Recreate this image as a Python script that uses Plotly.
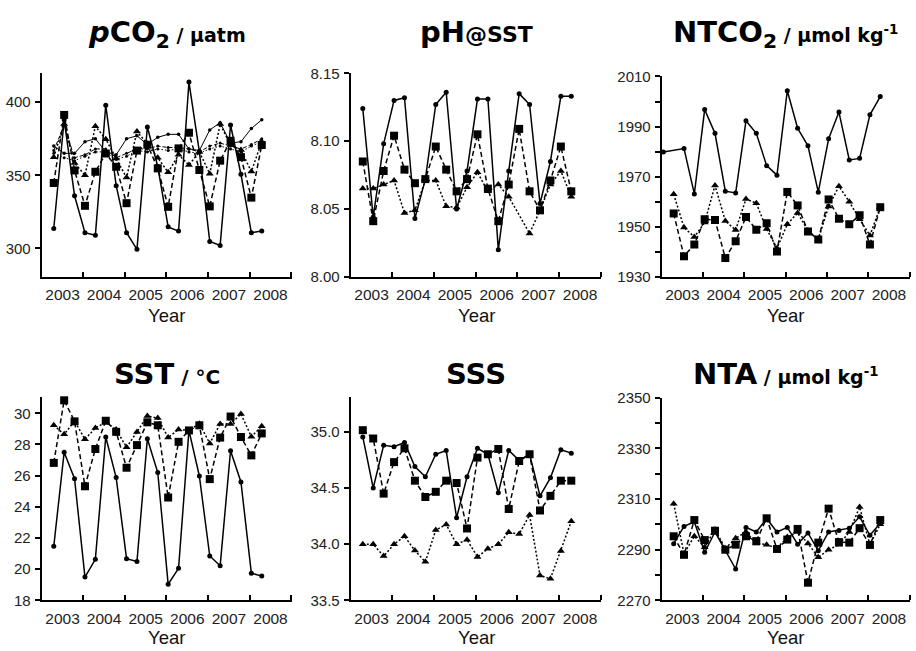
import plotly.graph_objects as go

# ---------------- data ----------------
# quarterly sampling dates (decimal years)
dates = [2003.04, 2003.29, 2003.54, 2003.79, 2004.04, 2004.29, 2004.54, 2004.79,
         2005.04, 2005.29, 2005.54, 2005.79, 2006.04, 2006.29, 2006.54, 2006.79,
         2007.04, 2007.29, 2007.54, 2007.79, 2008.04, 2008.29]
year_labels = ["2003", "2004", "2005", "2006", "2007", "2008"]

# pCO2 / uatm
pco2_solid = [None, 313.6, 388, 336, 310.7, 308.9, 398, 342.9, 310.7, 299.3, 383, 356,
              314.7, 311.8, 413.8, 366.2, 304.7, 302, 384.4, 350.7, 310.7, 311.8]
pco2_dashed = [None, 344.7, 391.3, 353.3, 329.1, 352.4, 364.9, 355.8, 330.9, 366.9, 370.9, 354.7,
               328.4, 368.4, 379.1, 353.6, 328.7, 360, 373.6, 362.4, 334.7, 370.7]
pco2_dotted = [None, 362.4, 385, 358.4, 350, 383.6, 374.7, 361.5, 348.4, 380, 371.5, 362,
               352, 364, 357, 366, 351, 385, 370.7, 367.3, 352.5, 373]
pco2_air_solid = [None, 370, 365, 365, 373, 375, 366, 364, 375, 377, 371, 376,
                  378, 378, 368, 367, 381, 386, 372, 373, 382, 388]
pco2_air_dashed = [None, 367, 384, 362, 364, 368, 368, 362, 365, 368, 368, 370,
                   369, 369, 368, 366, 370, 372, 370, 368, 371, 375]
pco2_air_dotted = [None, 365, 362, 360, 363, 366, 366, 361, 363, 367, 366, 368,
                   367, 368, 366, 365, 368, 370, 368, 366, 370, 373]

# pH @ SST
ph_solid = [None, 8.124, 8.044, 8.098, 8.130, 8.132, 8.043, 8.072, 8.127, 8.136, 8.050, 8.078,
            8.131, 8.131, 8.020, 8.078, 8.135, 8.127, 8.054, 8.085, 8.133, 8.133]
ph_dashed = [None, 8.085, 8.041, 8.078, 8.104, 8.079, 8.069, 8.072, 8.096, 8.079, 8.063, 8.072,
             8.105, 8.065, 8.041, 8.068, 8.109, 8.063, 8.049, 8.071, 8.096, 8.063]
ph_dotted = [None, 8.065, 8.065, 8.068, 8.071, 8.047, 8.049, 8.071, 8.071, 8.052, 8.051, 8.066,
             8.077, 8.063, 8.068, 8.059, None, 8.032, 8.049, 8.068, 8.078, 8.059]

# NTCO2 / umol kg-1
ntco2_solid = [1979.8, None, 1981.2, 1963.1, 1996.8, 1987.3, 1964.2, 1963.5, 1992.3, 1987.3, 1974.4,
               1970.6, 2004.3, 1989.3, 1982.3, 1963.8, 1985.1, 1995.8, 1976.7, 1977.3, 1994.7, 2002.0]
ntco2_dashed = [None, 1955.3, 1938.2, 1942.9, 1953.0, 1952.7, 1937.5, 1944.2, 1953.9, 1948.8, 1951.4,
                1940.1, 1963.9, 1958.5, 1948.1, 1944.9, 1960.9, 1953.2, 1951.0, 1954.6, 1942.9, 1957.8]
ntco2_dotted = [None, 1963.0, 1949.7, 1945.9, 1951.7, 1966.5, 1952.3, 1948.7, 1961.1, 1959.4, 1949.1,
                1941.4, 1951.0, 1955.5, 1948.5, 1945.0, 1958.1, 1966.2, 1960.0, 1953.0, 1946.5, 1957.8]

# SST / degC
sst_solid = [None, 21.47, 27.5, 25.8, 19.5, 20.64, 28.48, 25.88, 20.68, 20.5, 28.37, 26.2,
             19.04, 20.06, 28.9, 25.98, 20.85, 20.22, 27.6, 25.6, 19.75, 19.56]
sst_dashed = [None, 26.82, 30.83, 29.48, 25.32, 27.71, 29.52, 28.81, 26.51, 27.96, 29.42, 29.23,
              24.6, 28.17, 28.9, 29.23, 25.78, 28.44, 29.79, 28.48, 27.3, 28.71]
sst_dotted = [None, 29.23, 28.65, 29.5, 28.33, 29.06, 29.42, 28.96, 27.82, 28.8, 29.83, 29.69,
              28.44, 28.96, 28.9, 29.33, 28.07, 29.31, 29.31, 29.96, 28.5, 29.17]

# SSS
sss_solid = [None, 34.954, 34.50, 34.88, 34.867, 34.905, 34.69, 34.60, 34.80, 34.833, 34.236, 34.60,
             34.853, 34.80, 34.457, 34.833, 34.746, 34.80, 34.43, 34.59, 34.84, 34.81]
sss_dashed = [None, 35.014, 34.94, 34.45, 34.73, 34.853, 34.565, 34.42, 34.466, 34.565, 34.544, 34.14,
              34.77, 34.80, 34.847, 34.313, 34.74, 34.80, 34.30, 34.43, 34.565, 34.565]
sss_dotted = [None, 34.0, 34.0, 33.895, 34.0, 34.07, 33.944, 33.843, 34.126, 34.175, 34.0, 34.04,
              33.887, 33.96, 34.0, 34.106, 34.09, 34.26, 33.722, 33.693, 33.94, 34.204]

# NTA / umol kg-1
nta_solid = [None, 2292.4, 2299.2, 2301.0, 2289.0, 2297.0, 2289.7, 2282.4, 2298.8, 2297.0, 2302.3,
             2297.0, 2298.8, 2292.2, 2296.6, 2289.6, 2297.0, 2297.6, 2298.5, 2303.0, 2295.7, 2300.4]
nta_dashed = [None, 2295.3, 2288.0, 2301.7, 2293.8, 2297.5, 2290.0, 2292.0, 2295.3, 2293.4, 2302.4,
              2290.3, 2294.0, 2298.2, 2277.0, 2292.8, 2306.2, 2293.0, 2292.8, 2298.5, 2291.9, 2301.7]
nta_dotted = [None, 2308.1, 2288.5, 2295.3, 2291.0, 2298.0, 2290.5, 2294.5, 2297.0, 2292.5, 2292.0,
              2290.5, 2295.0, 2297.0, 2292.5, 2287.0, 2290.0, 2292.0, 2297.0, 2306.8, 2292.0, 2300.0]

# ---------------- layout helpers ----------------
W, H = 916, 651
FONT = "Liberation Sans, Arial, sans-serif"
TFONT = "DejaVu Sans, Verdana, sans-serif"

def px_x(a, b):
    return [a / W, b / W]

def px_y(top, bottom):
    return [1 - bottom / H, 1 - top / H]

panels = [
    dict(xd=(41.7, 291.7), yd=(65.7, 275), yr=[280.5, 420], tv=[300, 350, 400], tt=["300", "350", "400"], minor=None),
    dict(xd=(350.7, 601.3), yd=(66, 275), yr=[8.0, 8.15], tv=[8.0, 8.05, 8.10, 8.15], tt=["8.00", "8.05", "8.10", "8.15"], minor=None),
    dict(xd=(661.7, 910), yd=(69.3, 275), yr=[1930, 2010], tv=[1930, 1950, 1970, 1990, 2010], tt=["1930", "1950", "1970", "1990", "2010"], minor=[1940, 1960, 1980, 2000]),
    dict(xd=(41.7, 291.7), yd=(398.3, 607.3), yr=[18, 31.05], tv=[18, 20, 22, 24, 26, 28, 30], tt=["18", "20", "22", "24", "26", "28", "30"], minor=None),
    dict(xd=(350.7, 601.3), yd=(398.3, 607.3), yr=[33.5, 35.31], tv=[33.5, 34.0, 34.5, 35.0], tt=["33.5", "34.0", "34.5", "35.0"], minor=None),
    dict(xd=(661.7, 910), yd=(399, 607.3), yr=[2270, 2350], tv=[2270, 2290, 2310, 2330, 2350], tt=["2270", "2290", "2310", "2330", "2350"], minor=[2280, 2300, 2320, 2340]),
]

series_sets = [
    [(pco2_solid, "solid"), (pco2_dashed, "dashed"), (pco2_dotted, "dotted"),
     (pco2_air_solid, "thin_solid"), (pco2_air_dashed, "thin_dashed"), (pco2_air_dotted, "thin_dotted")],
    [(ph_solid, "solid"), (ph_dashed, "dashed"), (ph_dotted, "dotted")],
    [(ntco2_solid, "solid"), (ntco2_dashed, "dashed"), (ntco2_dotted, "dotted")],
    [(sst_solid, "solid"), (sst_dashed, "dashed"), (sst_dotted, "dotted")],
    [(sss_solid, "solid"), (sss_dashed, "dashed"), (sss_dotted, "dotted")],
    [(nta_solid, "solid"), (nta_dashed, "dashed"), (nta_dotted, "dotted")],
]

styles = {
    "solid": dict(line=dict(color="black", width=1.5, dash="solid"),
                  marker=dict(symbol="circle", size=5, color="black")),
    "dashed": dict(line=dict(color="black", width=1.5, dash="5px,3px"),
                   marker=dict(symbol="square", size=8, color="black")),
    "dotted": dict(line=dict(color="black", width=1.5, dash="2px,2px"),
                   marker=dict(symbol="triangle-up", size=7, color="black")),
    "thin_solid": dict(line=dict(color="black", width=1, dash="solid"),
                       marker=dict(symbol="circle", size=3.5, color="black")),
    "thin_dashed": dict(line=dict(color="black", width=1, dash="4px,2px"),
                        marker=dict(symbol="circle", size=3, color="black")),
    "thin_dotted": dict(line=dict(color="black", width=1, dash="1.5px,2px"),
                        marker=dict(symbol="circle", size=3, color="black")),
}

fig = go.Figure()
layout = dict(width=W, height=H, margin=dict(l=0, r=0, t=0, b=0), autosize=False,
              paper_bgcolor="white", plot_bgcolor="white", showlegend=False,
              font=dict(family=FONT, color="#111"))

year_mid = [2003.5, 2004.5, 2005.5, 2006.5, 2007.5, 2008.5]
year_bounds = [2004, 2005, 2006, 2007, 2008, 2009]

for i, p in enumerate(panels):
    n = "" if i == 0 else str(i + 1)
    xa, ya = "x" + n, "y" + n
    layout["xaxis" + n] = dict(
        domain=px_x(*p["xd"]), anchor=ya, range=[2003, 2009.01],
        tickmode="array", tickvals=year_mid, ticktext=year_labels, ticks="",
        showline=True, linecolor="black", linewidth=2, showgrid=False, zeroline=False,
        tickfont=dict(size=15.5, family=FONT, color="#222"), ticklabelstandoff=3,
        minor=dict(tickmode="array", tickvals=year_bounds, ticks="inside", ticklen=5,
                   tickwidth=1.5, tickcolor="black", showgrid=False),
        fixedrange=True)
    ydict = dict(
        domain=px_y(*p["yd"]), anchor=xa, range=p["yr"],
        tickmode="array", tickvals=p["tv"], ticktext=p["tt"], ticks="outside", ticklen=5,
        tickwidth=1.5, tickcolor="black",
        showline=True, linecolor="black", linewidth=2, showgrid=False, zeroline=False,
        tickfont=dict(size=15, family=FONT, color="#222"), ticklabelstandoff=1,
        fixedrange=True)
    if p["minor"]:
        ydict["minor"] = dict(tickmode="array", tickvals=p["minor"], ticks="outside", ticklen=5,
                              tickwidth=1.5, tickcolor="black", showgrid=False)
    layout["yaxis" + n] = ydict
    for vals, st in series_sets[i]:
        s = styles[st]
        fig.add_trace(go.Scatter(x=dates, y=vals, xaxis=xa, yaxis=ya, mode="lines+markers",
                                 line=s["line"], marker=s["marker"], connectgaps=True,
                                 cliponaxis=False, hoverinfo="skip"))

titles = [
    "<b><i>p</i>CO<sub>2</sub><span style='font-size:19px'> / µatm</span></b>",
    "<b>pH<span style='font-size:22px'>@SST</span></b>",
    "<b>NTCO<sub>2</sub><span style='font-size:19px'> / µmol kg<sup>-1</sup></span></b>",
    "<b>SST<span style='font-size:20px'> / °C</span></b>",
    "<b>SSS</b>",
    "<b>NTA<span style='font-size:19px'> / µmol kg<sup>-1</sup></span></b>",
]
title_y = [26, 24, 26, 375, 375, 375]

annotations = []
for i, p in enumerate(panels):
    cx = (p["xd"][0] + p["xd"][1]) / 2 / W
    annotations.append(dict(text=titles[i], x=cx, y=1 - title_y[i] / H, xref="paper", yref="paper",
                            xanchor="center", yanchor="middle", showarrow=False,
                            font=dict(size=29, family=TFONT, color="black")))
    yy = 315 if i < 3 else 645
    annotations.append(dict(text="Year", x=cx, y=1 - yy / H, xref="paper", yref="paper",
                            xanchor="center", yanchor="middle", showarrow=False,
                            font=dict(size=18.5, family=FONT, color="#111")))
layout["annotations"] = annotations

fig.update_layout(**layout)
fig.write_html("out.html")
